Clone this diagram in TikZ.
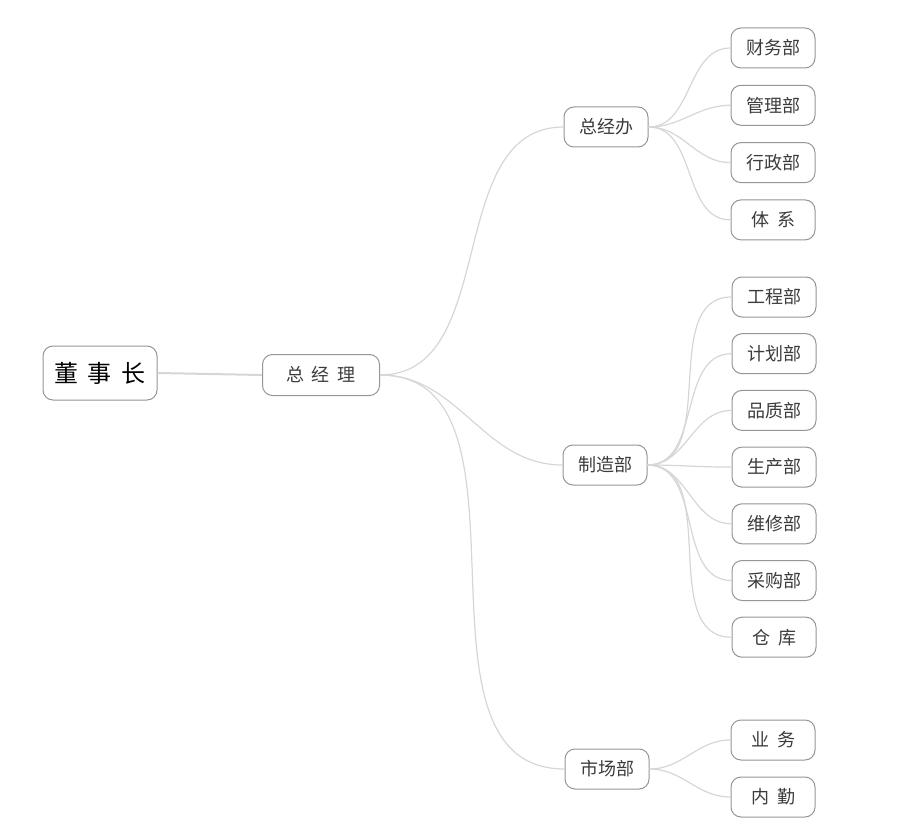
\documentclass[tikz,border=0pt]{standalone}
\usepackage{fontspec}
\setmainfont{Noto Sans CJK SC}
\usetikzlibrary{positioning}
\definecolor{boxgray}{RGB}{150,150,150}
\definecolor{linkgray}{RGB}{214,214,214}
\definecolor{textgray}{RGB}{60,60,60}
\newcommand{\gap}{\hspace{8pt}}

\begin{document}
\begin{tikzpicture}[
      x=1pt, y=-1pt,
      root/.style={draw=boxgray, rounded corners=10pt, fill=white,
                   line width=1pt, inner sep=0pt, text=black,
                   minimum width=114pt, minimum height=54pt,
                   font=\fontsize{24}{24}\selectfont},
      dept/.style={draw=boxgray, rounded corners=10pt, fill=white,
                   line width=1pt, inner sep=0pt, text=textgray,
                   minimum width=84pt, minimum height=40pt,
                   font=\fontsize{18}{18}\selectfont},
      link/.style={draw=linkgray, line width=1.2pt},
      node distance=16pt
    ]
    \useasboundingbox (0,0) rectangle (897,829);
    % top levels
    \node[root] (dsz) at (100,373) {董\hspace{10pt}事\hspace{10pt}长};
    \node[dept, minimum width=117pt, minimum height=41pt] (zjl) at (321,375) {总\gap 经\gap 理};
    \node[dept] (zjb) at (606,127) {总经办};
    \node[dept] (zzb) at (605,465) {制造部};
    \node[dept] (scb) at (607,769) {市场部};
    % under 总经办
    \node[dept] (cwb) at (773,48) {财务部};
    \node[dept, below=16.3pt of cwb] (glb) {管理部};
    \node[dept, below=16.3pt of glb] (xzb) {行政部};
    \node[dept, below=16.3pt of xzb] (tx) {体\gap 系};
    % under 制造部
    \node[dept] (gcb) at (774,297) {工程部};
    \node[dept, below=15.7pt of gcb] (jhb) {计划部};
    \node[dept, below=15.7pt of jhb] (pzb) {品质部};
    \node[dept, below=15.7pt of pzb] (scbu) {生产部};
    \node[dept, below=15.7pt of scbu] (wxb) {维修部};
    \node[dept, below=15.7pt of wxb] (cgb) {采购部};
    \node[dept, below=15.7pt of cgb] (ck) {仓\gap 库};
    % under 市场部
    \node[dept] (yw) at (773,740) {业\gap 务};
    \node[dept, below=of yw] (nq) {内\gap 勤};
    % links
    \draw[link, line width=2pt] (dsz.east) -- (zjl.west);
    \draw[link] (zjl.east) to[out=0, in=180] (zjb.west);
    \draw[link] (zjl.east) to[out=0, in=180] (zzb.west);
    \draw[link] (zjl.east) to[out=0, in=180] (scb.west);
    \foreach \c in {cwb,glb,xzb,tx}
      \draw[link] (zjb.east) to[out=0, in=180] (\c.west);
    \foreach \c in {gcb,jhb,pzb,scbu,wxb,cgb,ck}
      \draw[link] (zzb.east) to[out=0, in=180] (\c.west);
    \foreach \c in {yw,nq}
      \draw[link] (scb.east) to[out=0, in=180] (\c.west);
  \end{tikzpicture}
\end{document}
